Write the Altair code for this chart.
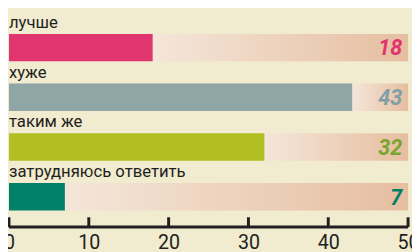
import altair as alt
import pandas as pd

categories = ["лучше", "хуже", "таким же", "затрудняюсь ответить"]
values = [18, 43, 32, 7]
bar_colors = ["#e0356e", "#8fa5a6", "#b2bf22", "#008068"]
label_colors = ["#e0356e", "#7f9ea7", "#7aa630", "#008068"]
full = [50, 50, 50, 50]
ticks = [0, 10, 20, 30, 40, 50]

df = pd.DataFrame({"cat": categories, "value": values, "full": full,
                   "bc": bar_colors, "lc": label_colors})
tdf = pd.DataFrame({"t": ticks})

FONT = "Roboto, sans-serif"
PLOT_H = 221
TICK_LEN = 10

yscale = alt.Scale(domain=categories, paddingInner=0.4474, paddingOuter=0.4046, align=0.585)
xscale = alt.Scale(domain=[0, 50], nice=False)

base = alt.Chart(df)

grad = alt.Gradient(
    gradient="linear",
    stops=[alt.GradientStop(color="#f4e6da", offset=0),
           alt.GradientStop(color="#e6bea0", offset=1)],
    x1=0, x2=1, y1=0, y2=0)

bg = base.mark_bar(color=grad).encode(
    x=alt.X("value:Q", scale=xscale,
            axis=alt.Axis(orient="bottom", labels=True, ticks=False, tickSize=0,
                          domain=False, grid=False, values=ticks, title=None,
                          labelFont=FONT, labelFontSize=20, labelColor="#231f20",
                          labelPadding=6, labelFlush=False, labelOverlap=False)),
    x2="full:Q",
    y=alt.Y("cat:N", scale=yscale, axis=None),
)

bars = base.mark_bar().encode(
    x=alt.X("value:Q", scale=xscale),
    x2=alt.datum(0),
    y=alt.Y("cat:N", scale=yscale, axis=None),
    color=alt.Color("bc:N", scale=None),
)

axis_line = alt.Chart(tdf).mark_rule(color="#231f20", strokeWidth=3).encode(
    x=alt.X("min(t):Q", scale=xscale),
    x2="max(t):Q",
    y=alt.value(PLOT_H),
)

tick_marks = alt.Chart(tdf).mark_rule(color="#231f20", strokeWidth=3).encode(
    x=alt.X("t:Q", scale=xscale),
    y=alt.value(PLOT_H - TICK_LEN),
    y2=alt.value(PLOT_H),
)

cat_labels = base.mark_text(align="left", baseline="alphabetic", dy=-6,
                            font=FONT, fontSize=17, color="#231f20").encode(
    x=alt.XDatum(0, scale=xscale),
    y=alt.Y("cat:N", scale=yscale, axis=None, bandPosition=0),
    text="cat:N",
)

val_labels = base.mark_text(align="right", baseline="middle", dx=-6, dy=1,
                            font=FONT, fontSize=22, fontWeight="bold",
                            fontStyle="italic").encode(
    x=alt.XDatum(50, scale=xscale),
    y=alt.Y("cat:N", scale=yscale, axis=None),
    text="value:Q",
    color=alt.Color("lc:N", scale=None),
)

chart = alt.layer(bg, bars, axis_line, tick_marks, cat_labels, val_labels).properties(
    width=407, height=PLOT_H,
    autosize=alt.AutoSizeParams(type="none"),
    padding={"left": 1, "top": 0, "right": 4, "bottom": 23},
    background="#f1ebd0",
).configure_view(stroke=None)

chart.save("out.html", embed_options={"renderer": "svg", "actions": False})
